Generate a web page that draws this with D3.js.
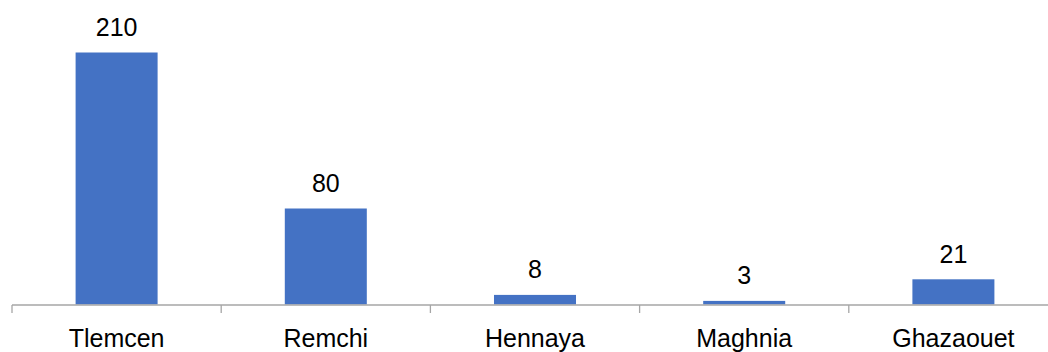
<!DOCTYPE html>
<html>
<head>
<meta charset="utf-8">
<script src="https://cdn.jsdelivr.net/npm/d3@7/dist/d3.min.js"></script>
<style>
  html, body { margin: 0; padding: 0; background: #fff; }
  svg { display: block; }
  text { font-family: "Liberation Sans", Arial, sans-serif; fill: #000; }
</style>
</head>
<body>
<svg id="chart" width="1048" height="352"></svg>
<script>
// Number of cases per town
const categories = ["Tlemcen", "Remchi", "Hennaya", "Maghnia", "Ghazaouet"];
const values = [210, 80, 8, 3, 21];

const svg = d3.select("#chart");
const W = 1048, H = 352;
const baseY = 304.5;
const left = 12, step = 209.2;

const x = d3.scaleBand()
  .domain(categories)
  .range([left, left + step * categories.length])
  .paddingInner(0.608)
  .paddingOuter(0.304);

const y = d3.scaleLinear()
  .domain([0, 210])
  .range([baseY, 52.5]);

// Bars
svg.append("g").selectAll("rect")
  .data(values)
  .join("rect")
  .attr("x", (d, i) => x(categories[i]))
  .attr("width", x.bandwidth())
  .attr("y", d => y(d))
  .attr("height", d => baseY - y(d))
  .attr("fill", "#4472c4");

// Value labels above bars
svg.append("g").selectAll("text")
  .data(values)
  .join("text")
  .attr("x", (d, i) => x(categories[i]) + x.bandwidth() / 2)
  .attr("y", d => y(d) - 16.5)
  .attr("text-anchor", "middle")
  .attr("font-size", "25px")
  .text(d => d);

// Category axis: baseline with ticks between categories
const xAxis = d3.axisBottom(x).tickSize(0).tickPadding(0).tickFormat("");
const axisG = svg.append("g")
  .attr("transform", `translate(0,${baseY + 0.5})`)
  .call(xAxis);
axisG.select(".domain").remove();
axisG.selectAll(".tick").remove();

axisG.append("line")
  .attr("x1", left).attr("x2", W + 20)
  .attr("y1", 0).attr("y2", 0)
  .attr("stroke", "#a6a6a6").attr("stroke-width", 1.3);

const bounds = d3.range(categories.length + 1).map(i => x.range()[0] + i * x.step());
axisG.selectAll("line.sep")
  .data(bounds)
  .join("line")
  .attr("class", "sep")
  .attr("x1", d => d).attr("x2", d => d)
  .attr("y1", 0).attr("y2", 8)
  .attr("stroke", "#a6a6a6").attr("stroke-width", 1.3);

svg.append("g").selectAll("text")
  .data(categories)
  .join("text")
  .attr("x", d => x(d) + x.bandwidth() / 2)
  .attr("y", 346.5)
  .attr("text-anchor", "middle")
  .attr("font-size", "25px")
  .text(d => d);
</script>
</body>
</html>
